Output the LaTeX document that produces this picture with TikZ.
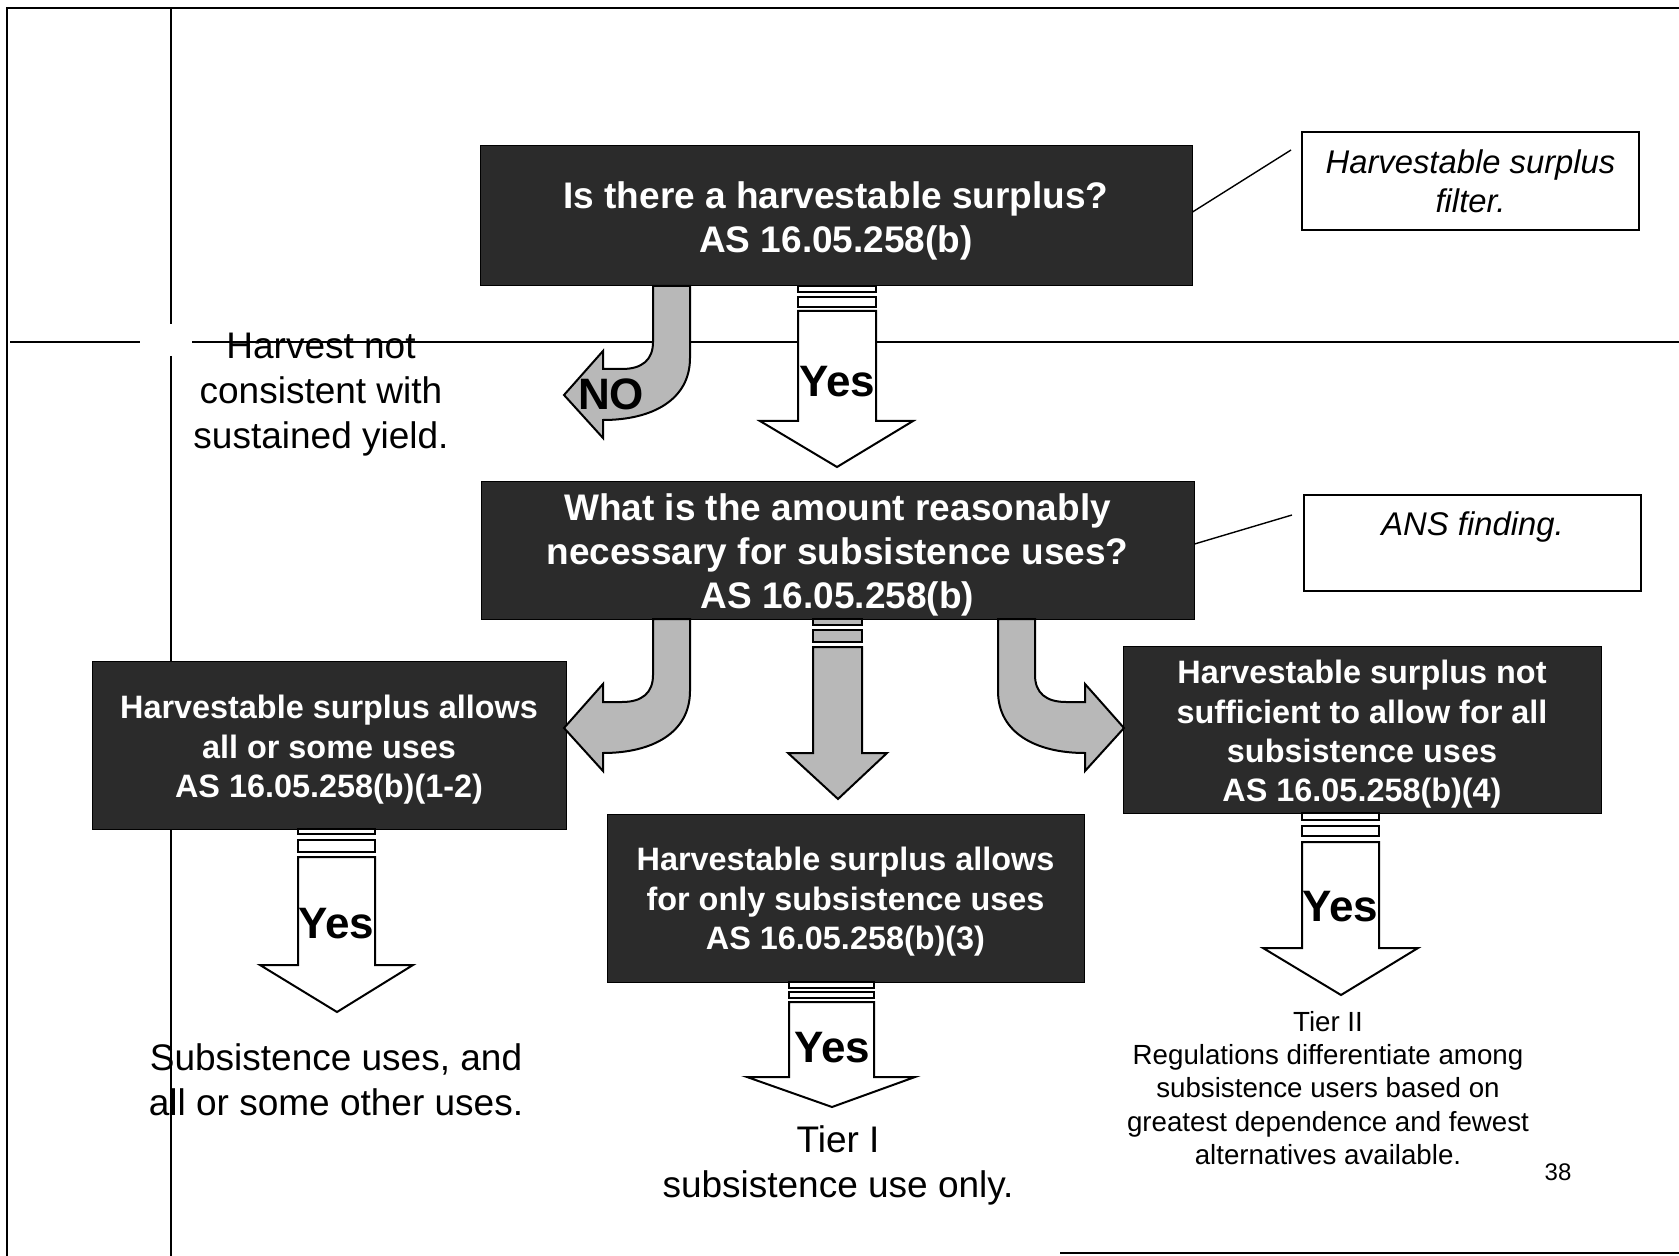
\documentclass[tikz,border=0pt]{standalone}
\usepackage{fontspec}
\setmainfont{Liberation Sans}
\definecolor{boxdark}{gray}{0.17}
\definecolor{arrowgray}{gray}{0.72}
\tikzset{
  darkbox/.style={fill=boxdark, draw=black, line width=0.5pt, inner sep=0pt},
  darktext/.style={text=white, align=center, inner sep=0pt,
    font=\bfseries\fontsize{18.5}{22}\selectfont},
  darksmalltext/.style={darktext, font=\bfseries\fontsize{16.2}{19.7}\selectfont},
  notebox/.style={draw=black, line width=0.7pt, fill=white, align=center, inner sep=0pt,
    font=\itshape\fontsize{16.4}{19.3}\selectfont},
  notetext/.style={align=center, inner sep=0pt, font=\itshape\fontsize{16.4}{19.3}\selectfont},
  plaintext/.style={align=center, inner sep=0pt, font=\fontsize{18.5}{22.5}\selectfont},
  smalltext/.style={align=center, inner sep=0pt, font=\fontsize{13.85}{16.6}\selectfont},
  yesarrow/.style={draw=black, line width=1pt, fill=white, line join=miter},
  grayarrow/.style={draw=black, line width=1pt, fill=arrowgray, line join=miter},
  arrowlabel/.style={inner sep=0pt, font=\bfseries\fontsize{22}{26}\selectfont},
  frameline/.style={line width=1.1pt},
  leader/.style={line width=0.7pt}
}
\begin{document}
\begin{tikzpicture}[x=0.5pt,y=-0.5pt]
\useasboundingbox (0,0) rectangle (1679,1256);
% page frame
\draw[frameline] (1679,8) -- (7,8) -- (7,1256);
\draw[frameline] (171,8) -- (171,324);
\draw[frameline] (171,356) -- (171,1256);
\draw[frameline] (10,342) -- (140,342);
\draw[frameline] (192,342) -- (1679,342);
\draw[frameline] (1060,1253) -- (1679,1253);

% dark boxes
\node[darkbox, minimum width=356pt, minimum height=70pt] (b1) at (836,216) {};
\node[darktext] (b1t) at ([yshift=-2.5pt]b1.center) {Is there a harvestable surplus?\\AS 16.05.258(b)};
\node[darkbox, minimum width=356.5pt, minimum height=69pt] (b2) at (837.5,550) {};
\node[darktext] (b2t) at ([yshift=-2.5pt]b2.center) {What is the amount reasonably\\necessary for subsistence uses?\\AS 16.05.258(b)};
\node[darkbox, minimum width=237pt, minimum height=84pt] (b3) at (329,745) {};
\node[darksmalltext] (b3t) at ([yshift=-2.5pt]b3.center) {Harvestable surplus allows\\all or some uses\\AS 16.05.258(b)(1-2)};
\node[darkbox, minimum width=238.5pt, minimum height=84pt] (b4) at (845.5,898) {};
\node[darksmalltext] (b4t) at ([yshift=-2pt]b4.center) {Harvestable surplus allows\\for only subsistence uses\\AS 16.05.258(b)(3)};
\node[darkbox, minimum width=239pt, minimum height=83.5pt] (b5) at (1362,729.5) {};
\node[darksmalltext] (b5t) at ([yshift=-2.5pt]b5.center) {Harvestable surplus not\\sufficient to allow for all\\subsistence uses\\AS 16.05.258(b)(4)};

% side notes
\node[notebox, minimum width=168.5pt, minimum height=49pt] (n1) at (1470.5,181)
  {Harvestable surplus\\filter.};
\node[notebox, minimum width=168.5pt, minimum height=48pt] (n2) at (1472.5,543) {};
\node[notetext] (n2t) at (1472.5,527) {ANS finding.};
\coordinate (n1end) at (1291,150);
\coordinate (n2end) at (1292,515);
\draw[leader] (b1.east) ++(0,-4) -- (n1end);
\draw[leader] (b2.east) ++(0,-6) -- (n2end);

% free texts
\node[plaintext] (tno) at (321,395) {Harvest not\\consistent with\\sustained yield.};
\node[plaintext] (tsub) at (336,1080) {Subsistence uses, and\\all or some other uses.};
\node[plaintext] (ttier1) at (838,1165) {Tier I\\subsistence use only.};
\node[smalltext] (ttier2) at (1328,1088) {Tier II\\Regulations differentiate among\\subsistence users based on\\greatest dependence and fewest\\alternatives available.};
\node[inner sep=0pt, font=\fontsize{12}{14}\selectfont] (pg) at (1558,1172) {38};

% NO arrow (bent, grey)
\draw[grayarrow] (690,286) -- (690,358) .. controls (690,400) and (652,420) .. (603,420)
  -- (603,438) -- (564,395) -- (603,351) -- (603,369) -- (622,369)
  .. controls (642,369) and (653,360) .. (653,342) -- (653,286) -- cycle;
\node[arrowlabel] (no) at (611,394) {NO};

% top Yes arrow
\draw[yesarrow] (798,286) rectangle (876,292);
\draw[yesarrow] (798,297) rectangle (876,307);
\draw[yesarrow] (798,311) -- (798,421) -- (760,421) -- (837,467) -- (913,421) -- (876,421) -- (876,311) -- cycle;
\node[arrowlabel] (y1) at (837,382) {Yes};

% bent arrows from b2
\begin{scope}[shift={(0,333)}]
\draw[grayarrow] (690,286) -- (690,358) .. controls (690,400) and (652,420) .. (603,420)
  -- (603,438) -- (564,395) -- (603,351) -- (603,369) -- (622,369)
  .. controls (642,369) and (653,360) .. (653,342) -- (653,286) -- cycle;
\end{scope}
\begin{scope}[shift={(1688,333)}, xscale=-1]
\draw[grayarrow] (690,286) -- (690,358) .. controls (690,400) and (652,420) .. (603,420)
  -- (603,438) -- (564,395) -- (603,351) -- (603,369) -- (622,369)
  .. controls (642,369) and (653,360) .. (653,342) -- (653,286) -- cycle;
\end{scope}

% middle grey arrow
\draw[grayarrow] (813,619) rectangle (862,625);
\draw[grayarrow] (813,630) rectangle (862,642);
\draw[grayarrow] (813,647) -- (813,753) -- (788,753) -- (838,799) -- (887,753) -- (862,753) -- (862,647) -- cycle;

% left Yes arrow
\draw[yesarrow] (298,829) rectangle (375,834);
\draw[yesarrow] (298,840) rectangle (375,852);
\draw[yesarrow] (298,857) -- (298,965) -- (260,965) -- (337,1012) -- (413,965) -- (375,965) -- (375,857) -- cycle;
\node[arrowlabel] (y2) at (336,924) {Yes};

% Tier I Yes arrow
\draw[yesarrow] (789,982) rectangle (874,988);
\draw[yesarrow] (789,992) rectangle (874,998);
\draw[yesarrow] (789,1002) -- (789,1077) -- (747,1077) -- (832,1107) -- (915,1077) -- (874,1077) -- (874,1002) -- cycle;
\node[arrowlabel] (y3) at (832,1048) {Yes};

% Tier II Yes arrow
\draw[yesarrow] (1302,813) rectangle (1379,820);
\draw[yesarrow] (1302,826) rectangle (1379,836);
\draw[yesarrow] (1302,842) -- (1302,948) -- (1263,948) -- (1341,995) -- (1418,948) -- (1379,948) -- (1379,842) -- cycle;
\node[arrowlabel] (y4) at (1340,907) {Yes};
\end{tikzpicture}
\end{document}
